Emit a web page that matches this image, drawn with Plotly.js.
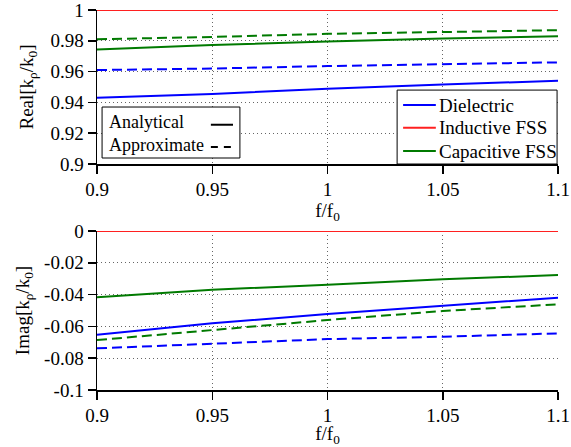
<!DOCTYPE html>
<html><head><meta charset="utf-8">
<script src="https://cdn.plot.ly/plotly-3.0.1.min.js"></script>
<style>body{margin:0;background:#fff}#chart{width:571px;height:447px}</style>
</head><body><div id="chart"></div>
<script>
const freq = [0.9, 0.95, 1.0, 1.05, 1.1];
const seriesNames = ['Dielectric', 'Inductive FSS', 'Capacitive FSS'];
const styleNames = ['Analytical', 'Approximate'];
const colors = ['#0000ff', '#ff2020', '#007a00'];
const xTicks = [0.9, 0.95, 1, 1.05, 1.1];
const xMinorTicks = [0.905,0.91,0.915,0.92,0.925,0.93,0.935,0.94,0.945,0.955,0.96,0.965,0.97,0.975,0.98,0.985,0.99,0.995,
  1.005,1.01,1.015,1.02,1.025,1.03,1.035,1.04,1.045,1.055,1.06,1.065,1.07,1.075,1.08,1.085,1.09,1.095];
const yTicksReal = [0.9, 0.92, 0.94, 0.96, 0.98, 1];
const yMinorReal = [0.91, 0.93, 0.95, 0.97, 0.99];
const yTicksImag = [-0.1, -0.08, -0.06, -0.04, -0.02, 0];
const yMinorImag = [-0.09, -0.07, -0.05, -0.03, -0.01];
// Real part
const realAnalyticalDiel = [0.943, 0.9455, 0.9489, 0.9517, 0.954];
const realApproxDiel     = [0.961, 0.962, 0.9636, 0.9649, 0.966];
const realInductive      = [1.0, 1.0, 1.0, 1.0, 1.0];
const realAnalyticalCap  = [0.9744, 0.9772, 0.9795, 0.9815, 0.983];
const realApproxCap      = [0.981, 0.9825, 0.9845, 0.9858, 0.9869];
// Imag part
const imagAnalyticalDiel = [-0.0652, -0.058, -0.0522, -0.047, -0.0419];
const imagApproxDiel     = [-0.0738, -0.071, -0.068, -0.0665, -0.0644];
const imagInductive      = [0, 0, 0, 0, 0];
const imagAnalyticalCap  = [-0.0417, -0.0369, -0.0338, -0.0304, -0.0277];
const imagApproxCap      = [-0.0686, -0.0623, -0.056, -0.0503, -0.0461];

const font = 'Liberation Serif';
const FS = 19;
const DASH = '10px,5px';
const xRange = [0.9, 1.1];
const yRangeReal = [0.9, 1];
const yRangeImag = [-0.1, 0];
function tr(y, color, dash, xa, ya) {
  return {x: freq, y: y, type: 'scatter', mode: 'lines', xaxis: xa, yaxis: ya,
    line: {color: color, width: 2, dash: dash}, showlegend: false, hoverinfo: 'skip'};
}
const traces = [
  tr(realApproxDiel, colors[0], DASH, 'x', 'y'),
  tr(realApproxCap, colors[2], DASH, 'x', 'y'),
  tr(realAnalyticalDiel, colors[0], 'solid', 'x', 'y'),
  tr(realInductive, colors[1], 'solid', 'x', 'y'),
  tr(realAnalyticalCap, colors[2], 'solid', 'x', 'y'),
  tr(imagApproxDiel, colors[0], DASH, 'x2', 'y2'),
  tr(imagApproxCap, colors[2], DASH, 'x2', 'y2'),
  tr(imagAnalyticalDiel, colors[0], 'solid', 'x2', 'y2'),
  tr(imagInductive, colors[1], 'solid', 'x2', 'y2'),
  tr(imagAnalyticalCap, colors[2], 'solid', 'x2', 'y2'),
];
// minor tick marks drawn as short line markers just outside the axes
const TOP_H = 154, BOT_H = 159, W = 461, TL = 6;
function minorXTrace(xa, ya, yr, h) {
  const off = (TL / 2) * (yr[1] - yr[0]) / h;
  return {x: xMinorTicks, y: xMinorTicks.map(() => yr[0] - off), xaxis: xa, yaxis: ya, type: 'scatter',
    mode: 'markers', cliponaxis: false, showlegend: false, hoverinfo: 'skip',
    marker: {symbol: 'line-ns-open', size: TL, color: '#000', line: {color: '#000', width: 1}}};
}
function minorYTrace(xa, ya, vals) {
  const off = (TL / 2) * (xRange[1] - xRange[0]) / W;
  return {y: vals, x: vals.map(() => xRange[0] - off), xaxis: xa, yaxis: ya, type: 'scatter',
    mode: 'markers', cliponaxis: false, showlegend: false, hoverinfo: 'skip',
    marker: {symbol: 'line-ew-open', size: TL, color: '#000', line: {color: '#000', width: 1}}};
}
traces.push(minorXTrace('x', 'y', yRangeReal, TOP_H));
traces.push(minorXTrace('x2', 'y2', yRangeImag, BOT_H));
traces.push(minorYTrace('x', 'y', yMinorReal));
traces.push(minorYTrace('x2', 'y2', yMinorImag));

const tickf = {family: font, size: FS, color: '#000'};
const GRIDC = '#666', GRIDDASH = '1px,3px';
function xax(anchor) {
  return {anchor: anchor, range: xRange, tickmode: 'array', tickvals: xTicks,
    ticktext: xTicks.map(String), ticklabeloverflow: 'allow', autorange: false,
    showline: true, linecolor: '#000', linewidth: 1.5, ticks: 'outside', ticklen: 8, tickwidth: 1.5, tickcolor: '#000',
    showgrid: true, gridcolor: GRIDC, griddash: GRIDDASH, gridwidth: 1, zeroline: false,
    tickfont: {...tickf}, title: {text: 'f/f<sub>0</sub>', font: {...tickf}, standoff: 0}};
}
function yax(domain, range, anchor, title, ticks, standoff) {
  return {domain: domain, anchor: anchor, range: range, tickmode: 'array', tickvals: ticks, autorange: false,
    ticktext: ticks.map(String), ticklabeloverflow: 'allow',
    showline: true, linecolor: '#000', linewidth: 1.5, ticks: 'outside', ticklen: 8, tickwidth: 1.5, tickcolor: '#000',
    showgrid: true, gridcolor: GRIDC, griddash: GRIDDASH, gridwidth: 1, zeroline: false,
    tickfont: {...tickf}, title: {text: title, font: {...tickf}, standoff: standoff}};
}
const shapes = [], annotations = [];
// series legend (bottom-right of upper panel)
shapes.push({type: 'rect', xref: 'x domain', yref: 'y domain', x0: 0.651, x1: 0.998, y0: 0, y1: 0.48,
  line: {color: '#000', width: 1}, fillcolor: '#fff', layer: 'above'});
const rowsY = [0.383, 0.235, 0.084];
seriesNames.forEach((n, i) => {
  shapes.push({type: 'line', xref: 'x domain', yref: 'y domain', x0: 0.664, x1: 0.735, y0: rowsY[i], y1: rowsY[i],
    line: {color: colors[i], width: 2}, layer: 'above'});
  annotations.push({xref: 'x domain', yref: 'y domain', x: 0.738, y: rowsY[i], xanchor: 'left', yanchor: 'middle',
    text: n, showarrow: false, font: {family: font, size: FS, color: '#000'}});
});
// style legend (bottom-left of upper panel)
shapes.push({type: 'rect', xref: 'x domain', yref: 'y domain', x0: 0.011, x1: 0.31, y0: 0.039, y1: 0.37,
  line: {color: '#000', width: 1}, fillcolor: '#fff', layer: 'above'});
const styleY = [0.27, 0.125];
const styleDash = ['solid', '7px,6px'];
styleNames.forEach((n, i) => {
  shapes.push({type: 'line', xref: 'x domain', yref: 'y domain', x0: 0.247, x1: 0.295, y0: styleY[i] - 0.015, y1: styleY[i] - 0.015,
    line: {color: '#000', width: 2, dash: styleDash[i]}, layer: 'above'});
  annotations.push({xref: 'x domain', yref: 'y domain', x: 0.022, y: styleY[i], xanchor: 'left', yanchor: 'middle',
    text: n, showarrow: false, font: {family: font, size: 18, color: '#000'}});
});
const layout = {
  width: 571, height: 447,
  margin: {l: 97, r: 13, t: 10, b: 57},
  paper_bgcolor: '#fff', plot_bgcolor: '#fff',
  font: {family: font, size: FS, color: '#000'},
  xaxis: xax('y'),
  yaxis: yax([0.5947, 1], yRangeReal, 'x', 'Real[k<sub>ρ</sub>/k<sub>0</sub>]', yTicksReal, 12),
  xaxis2: xax('y2'),
  yaxis2: yax([0, 0.4184], yRangeImag, 'x2', 'Imag[k<sub>ρ</sub>/k<sub>0</sub>]', yTicksImag, 9),
  showlegend: false,
  shapes: shapes,
  annotations: annotations
};
Plotly.newPlot('chart', traces, layout, {displayModeBar: false, staticPlot: true});
</script></body></html>
